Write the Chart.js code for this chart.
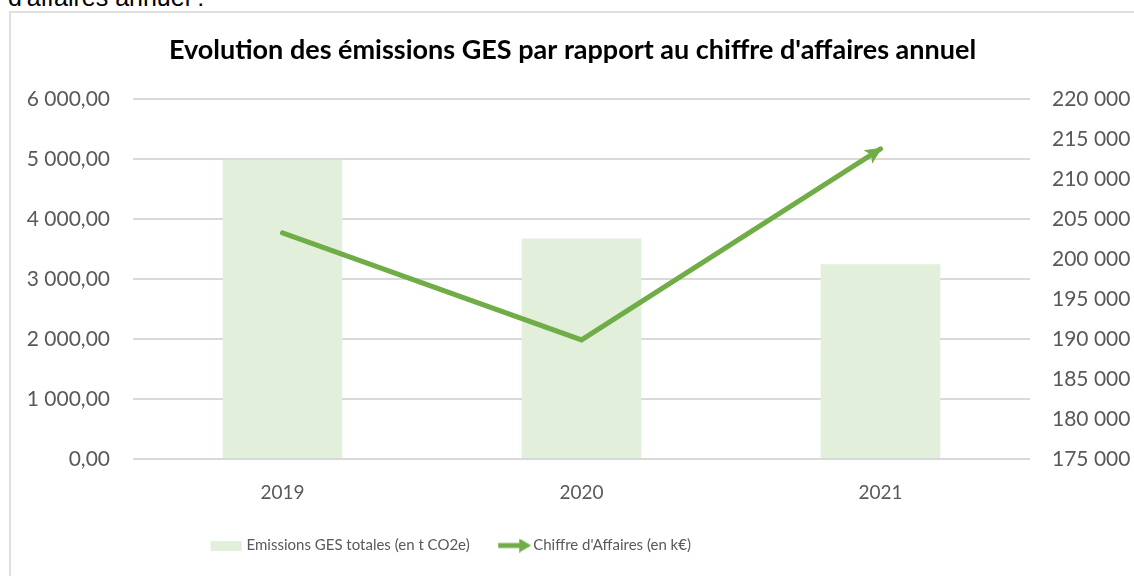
<!DOCTYPE html>
<html>
<head>
<meta charset="utf-8">
<script src="https://cdn.jsdelivr.net/npm/chart.js@4"></script>
<style>
  html, body { margin: 0; padding: 0; background: #fff; overflow: hidden; width: 1134px; height: 576px; }
  #cut { position: absolute; left: 8px; top: -15px; font: 25px "Liberation Sans", Arial, sans-serif; line-height: 25px; color: #000; white-space: nowrap; }
  #frame { position: absolute; left: 9px; top: 11px; width: 1140px; height: 600px; border: 2px solid #e0e0e0; }
  #chart { position: absolute; left: 11px; top: 13px; }
</style>
</head>
<body>
<div id="cut">d'affaires annuel :</div>
<div id="frame"></div>
<canvas id="chart" width="1123" height="563"></canvas>
<script>
const years = ['2019', '2020', '2021'];
const emissions = [4995, 3680, 3250];
const chiffreAffaires = [203300, 189900, 213800];
const leftTicks = { min: 0, max: 6000, step: 1000 };
const rightTicks = { min: 175000, max: 220000, step: 5000 };

const barColor = '#e2efda';
const lineColor = '#70ad47';
const textColor = '#595959';
const font = 'Lato';
const legendSize = 15;
const boxW = 40;
const iconW = boxW + legendSize;

const grp = n => String(Math.round(n)).replace(/\B(?=(\d{3})+(?!\d))/g, ' ');

// petites images pour la légende (marge transparente à gauche)
function swatch() {
    const c = document.createElement('canvas'); c.width = iconW; c.height = 10;
    const x = c.getContext('2d'); x.fillStyle = barColor; x.fillRect(iconW - 36, 0, 31, 10);
    return c;
}
function arrowIcon() {
    const c = document.createElement('canvas'); c.width = iconW; c.height = 14;
    const x = c.getContext('2d'), s = iconW - 35;
    x.strokeStyle = lineColor; x.lineWidth = 5;
    x.beginPath(); x.moveTo(s, 7); x.lineTo(s + 24, 7); x.stroke();
    x.fillStyle = lineColor;
    x.beginPath(); x.moveTo(s + 33, 7); x.lineTo(s + 21, 0); x.lineTo(s + 21, 14); x.closePath(); x.fill();
    return c;
}

const arrowHead = {
    id: 'arrowHead',
    afterDatasetsDraw(chart) {
        const pts = chart.getDatasetMeta(1).data;
        if (pts.length < 2) return;
        const a = pts[pts.length - 2], b = pts[pts.length - 1];
        const ang = Math.atan2(b.y - a.y, b.x - a.x);
        const ctx = chart.ctx, len = 17, half = 8;
        ctx.save();
        ctx.translate(b.x + Math.cos(ang) * 2, b.y + Math.sin(ang) * 2); ctx.rotate(ang);
        ctx.fillStyle = lineColor;
        ctx.beginPath(); ctx.moveTo(0, 0); ctx.lineTo(-len, -half); ctx.lineTo(-len + 4, 0); ctx.lineTo(-len, half); ctx.closePath(); ctx.fill();
        ctx.restore();
    }
};

// décale la légende vers la gauche comme dans Excel
const legendShift = {
    id: 'legendShift',
    afterLayout(chart) { chart.legend.right -= 255; }
};

new Chart(document.getElementById('chart'), {
    data: {
        labels: years,
        datasets: [
            { type: 'bar', label: 'Emissions GES totales (en t CO2e)', data: emissions, backgroundColor: barColor,
              yAxisID: 'y', order: 2, barPercentage: 0.4, categoryPercentage: 1 },
            { type: 'line', label: "Chiffre d'Affaires (en k€)", data: chiffreAffaires, borderColor: lineColor, borderWidth: 5,
              pointRadius: 0, tension: 0, borderCapStyle: 'round', borderJoinStyle: 'miter', yAxisID: 'y1', order: 1 }
        ]
    },
    options: {
        responsive: false, animation: false,
        layout: { padding: { left: 0, right: 0, top: 0, bottom: 13 } },
        plugins: {
            title: { display: true, text: "Evolution des émissions GES par rapport au chiffre d'affaires annuel",
                     color: '#000', font: { family: font, size: 27, weight: 'bold' }, padding: { top: 21, bottom: 33 } },
            legend: {
                position: 'bottom',
                labels: {
                    usePointStyle: true, pointStyleWidth: boxW, padding: 16, color: textColor,
                    font: { family: font, size: legendSize },
                    generateLabels: chart => chart.data.datasets.map((ds, i) => ({
                        text: ds.label, pointStyle: i === 0 ? swatch() : arrowIcon(),
                        fillStyle: 'transparent', strokeStyle: 'transparent', lineWidth: 0, fontColor: textColor, datasetIndex: i
                    }))
                }
            },
            tooltip: { enabled: false }
        },
        scales: {
            x: {
                grid: { display: false }, border: { display: false },
                ticks: { color: textColor, font: { family: font, size: 19 }, padding: 14 },
                afterFit: s => { s.height = 63; }
            },
            y: {
                position: 'left', min: leftTicks.min, max: leftTicks.max,
                grid: { color: '#d9d9d9', lineWidth: 2, drawTicks: false }, border: { display: false },
                ticks: { stepSize: leftTicks.step, color: textColor, font: { family: font, size: 21 }, padding: 23,
                         callback: v => grp(v) + ',00' },
                afterFit: s => { s.width = 122; }
            },
            y1: {
                position: 'right', min: rightTicks.min, max: rightTicks.max,
                grid: { display: false, drawTicks: false }, border: { display: false },
                ticks: { stepSize: rightTicks.step, color: textColor, font: { family: font, size: 21 }, padding: 22,
                         callback: v => grp(v) },
                afterFit: s => { s.width = 104; }
            }
        }
    },
    plugins: [arrowHead, legendShift]
});
</script>
</body>
</html>
